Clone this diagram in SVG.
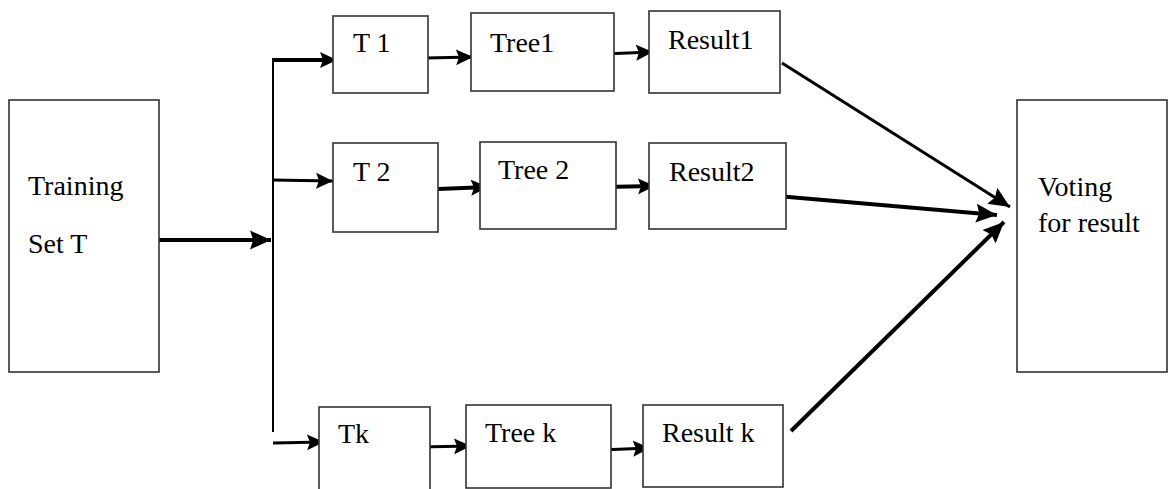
<svg xmlns="http://www.w3.org/2000/svg" width="1169" height="489" viewBox="0 0 1169 489">
  <style>
    .box { fill: #ffffff; stroke: #333333; stroke-width: 1.6; }
    .lbl { font-family: "Liberation Serif", "Times New Roman", serif; font-size: 28px; fill: #000000; }
    .wire { fill: none; stroke: #000000; stroke-linecap: butt; }
    .thin { stroke-width: 2; }
    .mid { stroke-width: 3; }
    .thick { stroke-width: 4; }
  </style>
  <defs>
    <marker id="head" markerUnits="userSpaceOnUse" markerWidth="18" markerHeight="18" refX="17" refY="8" orient="auto" viewBox="0 0 18 16">
      <path d="M0,0 L17,8 L0,16 L3,8 z" fill="#000000"/>
    </marker>
    <marker id="headL" markerUnits="userSpaceOnUse" markerWidth="22" markerHeight="20" refX="20" refY="9" orient="auto" viewBox="0 0 21 18">
      <path d="M0,0 L20,9 L0,18 L3,9 z" fill="#000000"/>
    </marker>
  </defs>

  <rect width="1169" height="489" fill="#ffffff"/>

  <!-- connectors -->
  <g id="connectors">
    <!-- training set into the splitter -->
    <line class="wire thick" x1="159" y1="240" x2="271" y2="240" marker-end="url(#headL)"/>
    <!-- splitter trunk -->
    <line class="wire thin" x1="273" y1="59" x2="273" y2="432"/>
    <!-- splitter to subsets -->
    <line class="wire thick" x1="272" y1="60" x2="337" y2="60" marker-end="url(#head)"/>
    <line class="wire mid" x1="272" y1="180" x2="333" y2="181" marker-end="url(#head)"/>
    <line class="wire mid" x1="273" y1="443" x2="324" y2="442" marker-end="url(#head)"/>
    <!-- subsets to trees -->
    <line class="wire mid" x1="426" y1="58" x2="473" y2="57" marker-end="url(#head)"/>
    <line class="wire thick" x1="438" y1="189" x2="488" y2="187" marker-end="url(#head)"/>
    <line class="wire mid" x1="419" y1="447" x2="471" y2="446" marker-end="url(#head)"/>
    <!-- trees to results -->
    <line class="wire mid" x1="603" y1="54" x2="653" y2="52" marker-end="url(#head)"/>
    <line class="wire thick" x1="603" y1="187" x2="655" y2="186" marker-end="url(#head)"/>
    <line class="wire mid" x1="600" y1="450" x2="650" y2="448" marker-end="url(#head)"/>
    <!-- results to voting -->
    <line class="wire mid" x1="782" y1="63" x2="1010" y2="207" marker-end="url(#headL)"/>
    <line class="wire thick" x1="777" y1="196" x2="997" y2="215" marker-end="url(#headL)"/>
    <line class="wire thick" x1="791" y1="431" x2="1004" y2="222" marker-end="url(#headL)"/>
  </g>

  <g id="training">
    <rect class="box" x="9" y="100" width="150" height="272"/>
    <text class="lbl" x="28" y="195">Training</text>
    <text class="lbl" x="28" y="253">Set T</text>
  </g>

  <g id="t1">
    <rect class="box" x="333" y="16" width="95" height="77"/>
    <text class="lbl" x="353" y="52">T 1</text>
  </g>
  <g id="tree1">
    <rect class="box" x="471" y="13" width="143" height="78"/>
    <text class="lbl" x="490" y="52">Tree1</text>
  </g>
  <g id="result1">
    <rect class="box" x="649" y="11" width="131" height="82"/>
    <text class="lbl" x="668" y="49">Result1</text>
  </g>

  <g id="t2">
    <rect class="box" x="333" y="143" width="105" height="89"/>
    <text class="lbl" x="353" y="181">T 2</text>
  </g>
  <g id="tree2">
    <rect class="box" x="480" y="142" width="136" height="87"/>
    <text class="lbl" x="498" y="179">Tree 2</text>
  </g>
  <g id="result2">
    <rect class="box" x="649" y="143" width="137" height="86"/>
    <text class="lbl" x="669" y="181">Result2</text>
  </g>

  <g id="tk">
    <rect class="box" x="319" y="407" width="111" height="90"/>
    <text class="lbl" x="338" y="443">Tk</text>
  </g>
  <g id="treek">
    <rect class="box" x="466" y="405" width="145" height="83"/>
    <text class="lbl" x="485" y="442">Tree k</text>
  </g>
  <g id="resultk">
    <rect class="box" x="643" y="405" width="140" height="82"/>
    <text class="lbl" x="662" y="442">Result k</text>
  </g>

  <g id="voting">
    <rect class="box" x="1017" y="100" width="150" height="272"/>
    <text class="lbl" x="1038" y="196">Voting</text>
    <text class="lbl" x="1038" y="232">for result</text>
  </g>
</svg>
